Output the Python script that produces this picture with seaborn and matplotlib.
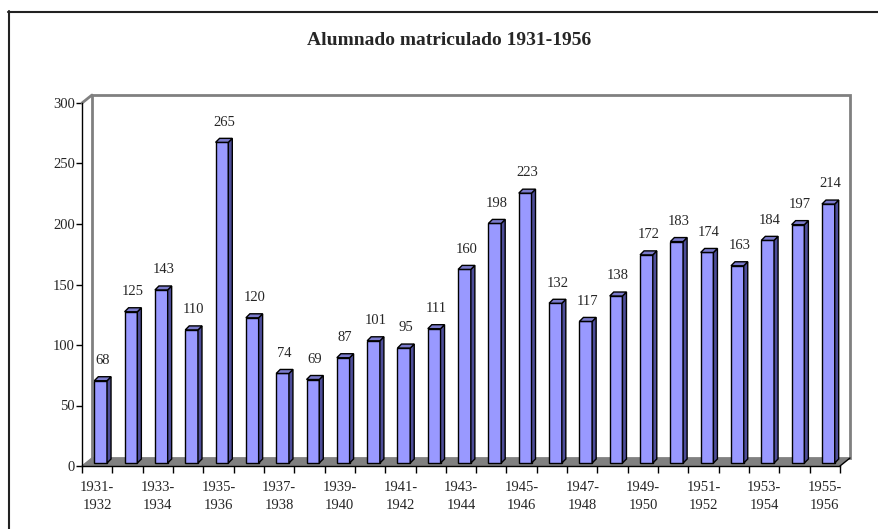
import numpy as np
import pandas as pd
import seaborn as sns
import matplotlib.pyplot as plt
import matplotlib.transforms as mtransforms
from matplotlib.patches import Polygon
from matplotlib.lines import Line2D

sns.set_style("white")
plt.rcParams['font.family'] = ['Liberation Serif', 'DejaVu Serif']

periods = ['1931-1932', '1932-1933', '1933-1934', '1934-1935', '1935-1936',
           '1936-1937', '1937-1938', '1938-1939', '1939-1940', '1940-1941',
           '1941-1942', '1942-1943', '1943-1944', '1944-1945', '1945-1946',
           '1946-1947', '1947-1948', '1948-1949', '1949-1950', '1950-1951',
           '1951-1952', '1952-1953', '1953-1954', '1954-1955', '1955-1956']
alumnos = [68, 125, 143, 110, 265, 120, 74, 69, 87, 101, 95, 111, 160,
           198, 223, 132, 117, 138, 172, 183, 174, 163, 184, 197, 214]
title = 'Alumnado matriculado 1931-1956'

df = pd.DataFrame({'periodo': periods, 'alumnos': alumnos})

W, H = 879, 529
fig = plt.figure(figsize=(W / 100, H / 100), dpi=100)
ax = fig.add_axes([82 / W, 63 / H, 758 / W, 363 / H])

face = '#9999FF'
side = '#4d4d99'
top = '#7b7bcc'
bw = 0.42

sns.barplot(data=df, x='periodo', y='alumnos', color=face, width=bw,
            edgecolor='black', linewidth=1, saturation=1, ax=ax, zorder=3)
n = len(periods)
ax.set_xlim(-0.5, n - 0.5)
ax.set_ylim(0, 300)

# pixel -> data scale
px_x = (758 / n)
px_y = 363 / 300
wall_dx, wall_dy = 10 / px_x, 8 / px_y      # back wall depth
bar_shift = mtransforms.offset_copy(ax.transData, fig=fig, x=3.5, y=3, units='dots')
bdx, bdy = 4 / px_x, 4 / px_y                # bar depth

for p in ax.patches:
    p.set_transform(bar_shift)

# floor and back wall
x0, x1 = -0.5, n - 0.5
floor = Polygon([(x0, 0), (x1, 0), (x1 + wall_dx, wall_dy), (x0 + wall_dx, wall_dy)],
                closed=True, facecolor='#808080', edgecolor='none',
                zorder=1, clip_on=False)
ax.add_patch(floor)
wall = Polygon([(x0 + wall_dx, wall_dy), (x1 + wall_dx, wall_dy),
                (x1 + wall_dx, 300 + wall_dy), (x0 + wall_dx, 300 + wall_dy)],
               closed=True, facecolor='white', edgecolor='#808080', lw=2,
               zorder=0.5, clip_on=False)
ax.add_patch(wall)
ax.plot([x0, x0 + wall_dx], [300, 300 + wall_dy], color='#808080', lw=2,
        clip_on=False, zorder=0.6)
ax.plot([x0, x0 + wall_dx], [0, wall_dy], color='#808080', lw=1,
        clip_on=False, zorder=1.2)
ax.plot([x1, x1 + wall_dx], [0, wall_dy], color='black', lw=1,
        clip_on=False, zorder=1.2)

# bar sides, tops and labels
for i, v in enumerate(alumnos):
    xl, xr = i - bw / 2, i + bw / 2
    ax.add_patch(Polygon([(xr, 0), (xr + bdx, bdy), (xr + bdx, v + bdy), (xr, v)],
                         closed=True, facecolor=side, edgecolor='black', lw=1,
                         transform=bar_shift, zorder=3, clip_on=False))
    ax.add_patch(Polygon([(xl, v), (xr, v), (xr + bdx, v + bdy), (xl + bdx, v + bdy)],
                         closed=True, facecolor=top, edgecolor='black', lw=1,
                         transform=bar_shift, zorder=3, clip_on=False))
    ax.text(i + bdx / 2, v + bdy + 8, str(v), transform=bar_shift,
            ha='center', va='bottom', fontsize=10.5, zorder=4)

# axes styling
for s in ['top', 'right']:
    ax.spines[s].set_visible(False)
for s in ['left', 'bottom']:
    ax.spines[s].set_color('black')
    ax.spines[s].set_linewidth(1)
    ax.spines[s].set_zorder(2)

ax.set_yticks(np.arange(0, 301, 50))
ax.tick_params(axis='y', direction='out', length=4, width=1, color='black',
               labelsize=10.5, pad=1, left=True)
ax.set_xticks(range(0, n, 2))
ax.set_xticklabels([p.replace('-', '-\n') for p in periods[::2]], fontsize=10.5,
                   linespacing=1.45)
ax.set_xticks(np.arange(-0.5, n, 1), minor=True)
ax.tick_params(axis='x', which='major', length=0, pad=11)
ax.tick_params(axis='x', which='minor', direction='out', length=5, width=1,
               color='black', bottom=True)
ax.set_xlabel('')
ax.set_ylabel('')
ax.grid(False)
ax.patch.set_alpha(0)

fig.text(449 / W, 1 - 40 / H, title, ha='center', va='center',
         fontsize=14, fontweight='bold')

# chart border
fig.add_artist(Line2D([8.5 / W, 8.5 / W], [0, 1 - 11 / H], color='#222222', lw=1.5))
fig.add_artist(Line2D([8 / W, 1], [1 - 11.5 / H, 1 - 11.5 / H], color='#222222', lw=1.5))

fig.savefig('out.png', dpi=100)
